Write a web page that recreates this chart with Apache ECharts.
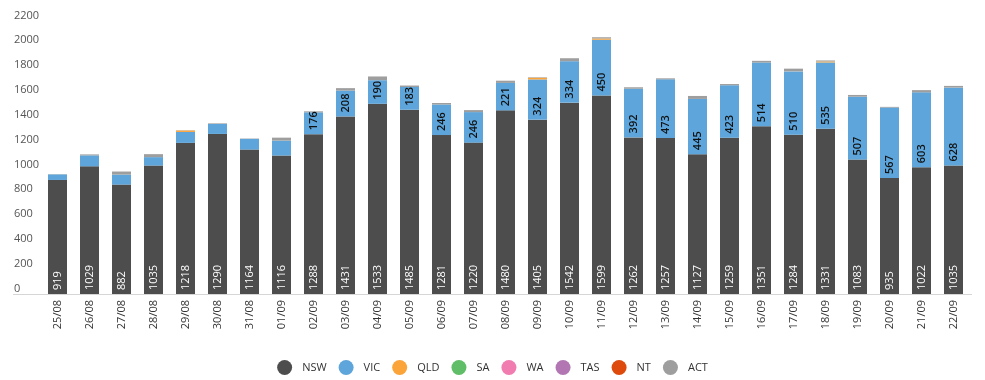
<!DOCTYPE html>
<html>
<head>
<meta charset="utf-8">
<script src="https://cdn.jsdelivr.net/npm/echarts@6/dist/echarts.min.js"></script>
<style>
html,body{margin:0;padding:0;background:#fff;}
#chart{width:985px;height:380px;}
</style>
</head>
<body>
<div id="chart"></div>
<script>
const categories = ['25/08','26/08','27/08','28/08','29/08','30/08','31/08','01/09','02/09','03/09','04/09','05/09','06/09','07/09','08/09','09/09','10/09','11/09','12/09','13/09','14/09','15/09','16/09','17/09','18/09','19/09','20/09','21/09','22/09'];
const nsw = [919,1029,882,1035,1218,1290,1164,1116,1288,1431,1533,1485,1281,1220,1480,1405,1542,1599,1262,1257,1127,1259,1351,1284,1331,1083,935,1022,1035];
const vic = [45,88,80,68,88,80,86,120,176,208,190,183,246,246,221,324,334,450,392,473,445,423,514,510,535,507,567,603,628];
const qld = [0,0,0,0,12,0,0,0,0,0,0,0,0,0,0,14,0,10,0,0,0,0,0,0,8,0,0,0,0];
const sa  = [0,0,0,0,0,0,0,0,0,0,0,0,0,0,0,0,0,0,0,0,0,0,0,0,0,0,0,0,0];
const wa  = [0,0,0,0,0,0,0,0,0,0,0,0,0,0,0,0,0,0,0,0,0,0,0,0,0,0,0,0,0];
const tas = [0,0,0,0,0,0,0,0,0,0,0,0,0,0,0,0,0,0,0,0,0,0,0,0,0,0,0,0,0];
const nt  = [0,0,0,0,0,0,0,0,0,0,0,0,0,0,0,0,0,0,0,0,0,0,0,0,0,0,0,0,0];
const act = [2,8,25,24,2,5,3,24,8,20,30,12,12,16,18,4,24,10,12,8,24,10,14,22,8,14,6,18,14];
const yTicks = [0,200,400,600,800,1000,1200,1400,1600,1800,2000,2200];

const seriesDefs = [
  {name:'NSW', data:nsw, color:'#4D4D4D'},
  {name:'VIC', data:vic, color:'#5DA5DA'},
  {name:'QLD', data:qld, color:'#FAA43A'},
  {name:'SA',  data:sa,  color:'#60BD68'},
  {name:'WA',  data:wa,  color:'#F17CB0'},
  {name:'TAS', data:tas, color:'#B276B2'},
  {name:'NT',  data:nt,  color:'#DD4A0C'},
  {name:'ACT', data:act, color:'#9E9E9E'}
];
const FONT = '"Open Sans", sans-serif';

const chart = echarts.init(document.getElementById('chart'), null, {renderer:'canvas'});
const series = seriesDefs.map(s => {
  const o = {
    name: s.name, type: 'bar', stack: 'total', data: s.data,
    barWidth: 19,
    itemStyle: {color: s.color},
    emphasis: {disabled: true},
    animation: false
  };
  if (s.name === 'NSW') {
    o.label = {show:true, position:'insideBottom', rotate:90, align:'left', verticalAlign:'middle',
      distance:4, color:'#ffffff', fontSize:11, fontFamily:FONT};
  } else if (s.name === 'VIC') {
    o.label = {show:true, position:'insideBottom', rotate:90, align:'left', verticalAlign:'middle',
      distance:4, color:'#111111', fontSize:11, fontWeight:600, fontFamily:FONT,
      formatter: p => p.value >= 150 ? String(p.value) : ''};
  }
  return o;
});

chart.setOption({
  animation: false,
  color: seriesDefs.map(s => s.color),
  grid: {left: 41.5, right: 15.5, top: 21, bottom: 86, containLabel: false},
  legend: {
    data: seriesDefs.map(s => s.name),
    top: 355, left: 'center', icon: 'circle', itemWidth: 15, itemHeight: 15, itemGap: 12,
    textStyle: {color:'#333', fontSize:11, fontFamily:FONT, padding:[0,0,0,5]},
    selectedMode: false
  },
  xAxis: {
    type: 'category', data: categories,
    axisLine: {show:false}, axisTick: {show:false},
    axisLabel: {rotate:90, color:'#333', fontSize:11, fontFamily:FONT, margin:6, interval:0}
  },
  yAxis: {
    type: 'value', min: yTicks[0], max: yTicks[yTicks.length-1], interval: 200,
    axisLine: {show:false}, axisTick: {show:false}, splitLine: {show:false},
    axisLabel: {color:'#555', fontSize:11, fontFamily:FONT, align:'left', verticalAlign:'bottom', margin:27.5,
      formatter: v => yTicks.indexOf(v) >= 0 ? String(v) : ''}
  },
  graphic: [{
    type:'line', shape:{x1:13, y1:294.5, x2:972, y2:294.5},
    style:{stroke:'#d6d6d6', lineWidth:1}, silent:true, z:0
  }],
  series: series
});
</script>
</body>
</html>
